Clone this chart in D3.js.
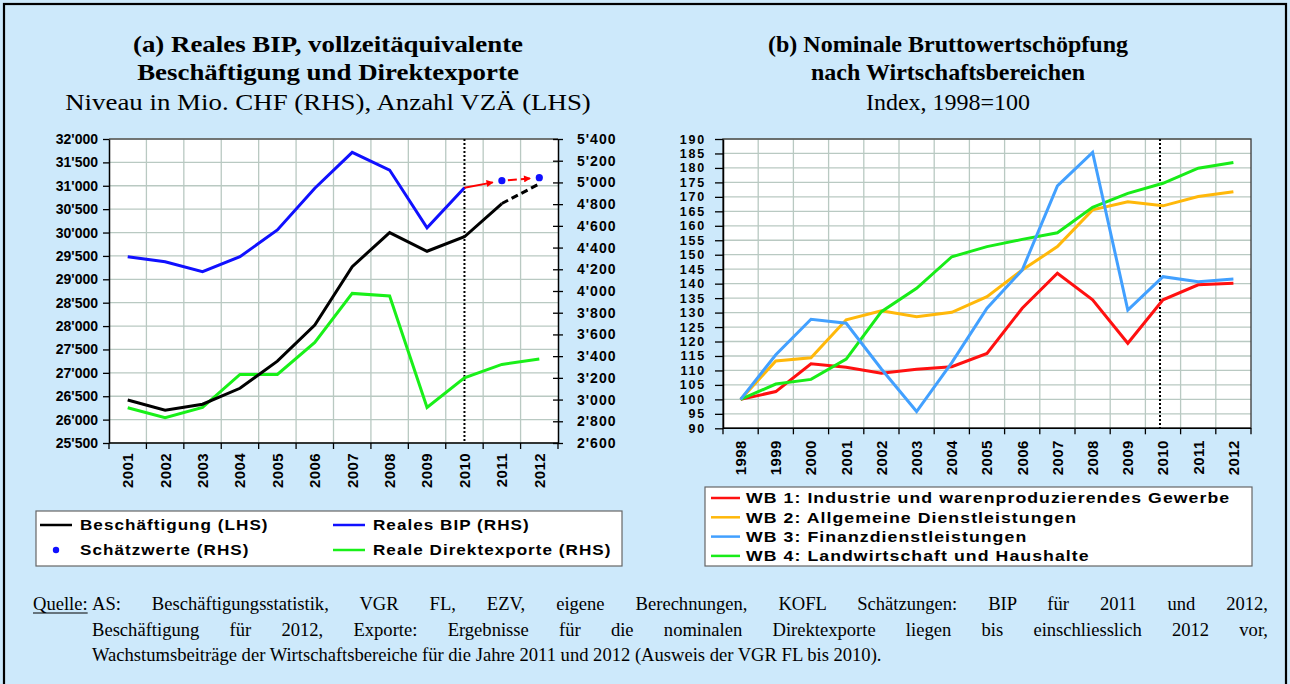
<!DOCTYPE html>
<html>
<head>
<meta charset="utf-8">
<script src="https://cdn.jsdelivr.net/npm/d3@7"></script>
<style>
  html, body { margin: 0; padding: 0; background: #cde9fb; }
  svg { display: block; }
  .tick text, .lbl { font-family: "Liberation Sans", Arial, sans-serif; font-weight: bold; }
</style>
</head>
<body>
<svg id="chart" width="1290" height="684"></svg>
<script>
// ---------- Data ----------
const yearsA = [2001, 2002, 2003, 2004, 2005, 2006, 2007, 2008, 2009, 2010, 2011, 2012];
const beschaeftigung = [26420, 26200, 26330, 26670, 27250, 28020, 29270, 30000, 29600, 29910, 30620, 31040];
const realesBIP = [4316, 4270, 4178, 4316, 4562, 4946, 5277, 5114, 4583, 4951, null, null];
const schaetzYears = [2011, 2012];
const schaetzwerte = [5016, 5044];
const direktexporte = [2925, 2832, 2927, 3232, 3232, 3527, 3978, 3954, 2927, 3201, 3324, 3373];
const lhsTicks = [25500, 26000, 26500, 27000, 27500, 28000, 28500, 29000, 29500, 30000, 30500, 31000, 31500, 32000];
const rhsTicks = [2600, 2800, 3000, 3200, 3400, 3600, 3800, 4000, 4200, 4400, 4600, 4800, 5000, 5200, 5400];

const yearsB = [1998, 1999, 2000, 2001, 2002, 2003, 2004, 2005, 2006, 2007, 2008, 2009, 2010, 2011, 2012];
const wb1 = [100, 102.7, 112.3, 111.1, 109, 110.4, 111.3, 115.9, 131.5, 143.6, 134.4, 119.4, 134.4, 139.6, 140.1];
const wb2 = [100, 113.3, 114.4, 127.5, 130.6, 128.6, 130.1, 135.5, 144.7, 152.8, 165.5, 168.3, 166.9, 170.1, 171.8];
const wb3 = [100, 115.4, 127.7, 126.3, 110.5, 95.8, 112.7, 131.5, 144.7, 173.8, 185.4, 130.9, 142.4, 140.7, 141.6];
const wb4 = [100, 105.3, 106.9, 113.9, 130.3, 138.4, 149.3, 152.8, 155.3, 157.6, 166.4, 171.2, 174.7, 179.9, 181.9];
const idxTicks = [90, 95, 100, 105, 110, 115, 120, 125, 130, 135, 140, 145, 150, 155, 160, 165, 170, 175, 180, 185, 190];

const legendA = ["Beschäftigung (LHS)", "Reales BIP (RHS)", "Schätzwerte (RHS)", "Reale Direktexporte (RHS)"];
const legendB = ["WB 1: Industrie und warenproduzierendes Gewerbe", "WB 2: Allgemeine Dienstleistungen",
                 "WB 3: Finanzdienstleistungen", "WB 4: Landwirtschaft und Haushalte"];
const footLines = [
  "AS: Beschäftigungsstatistik, VGR FL, EZV, eigene Berechnungen, KOFL Schätzungen: BIP für 2011 und 2012,",
  "Beschäftigung für 2012, Exporte: Ergebnisse für die nominalen Direktexporte liegen bis einschliesslich 2012 vor,",
  "Wachstumsbeiträge der Wirtschaftsbereiche für die Jahre 2011 und 2012 (Ausweis der VGR FL bis 2010)."
];

// ---------- Setup ----------
const svg = d3.select("#chart");
const fmt = d3.formatLocale({decimal: ".", thousands: "'", grouping: [3], currency: ["", ""]}).format(",");
const GRID = "#b9c9c2";
const serif = "'Liberation Serif', 'Times New Roman', serif";

svg.append("rect").attr("x", 0).attr("y", 0).attr("width", 1290).attr("height", 684).attr("fill", "#cde9fb");
svg.append("rect").attr("x", 4).attr("y", 4).attr("width", 1282).attr("height", 700)
  .attr("fill", "none").attr("stroke", "#000").attr("stroke-width", 2.2);

function title(cx, lines, sx) {
  lines.forEach((l, i) => {
    svg.append("text").attr("transform", `translate(${cx},${[52, 80, 110][i]}) scale(${sx},1)`)
      .attr("text-anchor", "middle")
      .attr("font-family", serif).attr("font-size", 24).attr("font-weight", i < 2 ? "bold" : "normal")
      .attr("fill", "#000").text(l);
  });
}
title(328, ["(a) Reales BIP, vollzeitäquivalente", "Beschäftigung und Direktexporte", "Niveau in Mio. CHF (RHS), Anzahl VZÄ (LHS)"], 1.12);
title(948, ["(b) Nominale Bruttowertschöpfung", "nach Wirtschaftsbereichen", "Index, 1998=100"], 1.0);

// ---------- Chart A ----------
const A = {l: 109, r: 558, t: 139, b: 443};
const xA = d3.scaleBand().domain(yearsA).range([A.l, A.r]);
const yL = d3.scaleLinear().domain([25500, 32000]).range([A.b, A.t]);
const yR = d3.scaleLinear().domain([2600, 5400]).range([A.b, A.t]);
const cA = d => xA(d) + xA.bandwidth() / 2;
const gA = svg.append("g");
gA.append("rect").attr("x", A.l).attr("y", A.t).attr("width", A.r - A.l).attr("height", A.b - A.t).attr("fill", "#fff");
gA.selectAll(".hg").data(lhsTicks).join("line")
  .attr("x1", A.l).attr("x2", A.r).attr("y1", d => yL(d)).attr("y2", d => yL(d))
  .attr("stroke", GRID).attr("stroke-width", 1.3);
gA.selectAll(".vg").data(yearsA.slice(1)).join("line")
  .attr("x1", d => xA(d)).attr("x2", d => xA(d)).attr("y1", A.t).attr("y2", A.b)
  .attr("stroke", GRID).attr("stroke-width", 1.3);
gA.append("line").attr("x1", A.l).attr("x2", A.r).attr("y1", A.t).attr("y2", A.t).attr("stroke", "#555").attr("stroke-width", 1.3);

const axL = gA.append("g").attr("transform", `translate(${A.l},0)`)
  .call(d3.axisLeft(yL).tickValues(lhsTicks).tickFormat(fmt).tickSizeInner(6).tickSizeOuter(0).tickPadding(5));
const axR = gA.append("g").attr("transform", `translate(${A.r},0)`)
  .call(d3.axisRight(yR).tickValues(rhsTicks).tickFormat(fmt).tickSizeInner(5).tickSizeOuter(0).tickPadding(14));
axR.selectAll(".tick line").attr("x1", -5);
const axB = gA.append("g").attr("transform", `translate(0,${A.b})`);
axB.append("line").attr("x1", A.l).attr("x2", A.r).attr("stroke", "#000").attr("stroke-width", 1.5);
axB.selectAll(".bt").data(yearsA.concat([null])).join("line")
  .attr("x1", (d, i) => A.l + i * xA.step()).attr("x2", (d, i) => A.l + i * xA.step())
  .attr("y1", 0).attr("y2", 6).attr("stroke", "#000").attr("stroke-width", 1.3);
axB.selectAll(".bl").data(yearsA).join("text").attr("class", "lbl")
  .attr("transform", d => `translate(${cA(d)},10) rotate(-90)`)
  .attr("text-anchor", "end").attr("dy", "0.36em").attr("font-size", 15).attr("letter-spacing", 0.4)
  .attr("fill", "#000").text(d => d);
[axL, axR].forEach(ax => {
  ax.select(".domain").attr("stroke", "#000").attr("stroke-width", 1.5);
  ax.selectAll(".tick line").attr("stroke", "#000").attr("stroke-width", 1.3);
  ax.selectAll(".tick text").attr("font-size", 14).attr("fill", "#000");
});
axR.selectAll(".tick text").attr("letter-spacing", 1);

gA.append("line").attr("x1", cA(2010)).attr("x2", cA(2010)).attr("y1", A.t).attr("y2", A.b)
  .attr("stroke", "#000").attr("stroke-width", 2).attr("stroke-dasharray", "2,2");

const lineL = d3.line().x((d, i) => cA(yearsA[i])).y(d => yL(d)).defined(d => d != null);
const lineR = d3.line().x((d, i) => cA(yearsA[i])).y(d => yR(d)).defined(d => d != null);

gA.append("path").attr("d", lineR(direktexporte)).attr("fill", "none").attr("stroke", "#19f019").attr("stroke-width", 3);
gA.append("path").attr("d", lineR(realesBIP)).attr("fill", "none").attr("stroke", "#1010ff").attr("stroke-width", 3);
gA.append("path").attr("d", lineL(beschaeftigung.map((v, i) => i <= 10 ? v : null)))
  .attr("fill", "none").attr("stroke", "#000").attr("stroke-width", 3);
gA.append("path").attr("d", lineL(beschaeftigung.map((v, i) => i >= 10 ? v : null)))
  .attr("fill", "none").attr("stroke", "#000").attr("stroke-width", 3).attr("stroke-dasharray", "7,4");

svg.append("defs").append("marker").attr("id", "arr").attr("viewBox", "0 0 10 10").attr("refX", 9).attr("refY", 5)
  .attr("markerWidth", 9).attr("markerHeight", 7).attr("markerUnits", "userSpaceOnUse").attr("orient", "auto")
  .append("path").attr("d", "M0,0L10,5L0,10Z").attr("fill", "#ff0000");
const arrowPts = [[2010, realesBIP[9]], [schaetzYears[0], schaetzwerte[0]], [schaetzYears[1], schaetzwerte[1]]];
for (let k = 0; k < 2; k++) {
  const [x0y, v0] = arrowPts[k], [x1y, v1] = arrowPts[k + 1];
  const x0 = cA(x0y) + (k === 0 ? 0 : 6), x1 = cA(x1y) - 9;
  const t0 = (x0 - cA(x0y)) / (cA(x1y) - cA(x0y)), t1 = (x1 - cA(x0y)) / (cA(x1y) - cA(x0y));
  const y0 = yR(v0) + (yR(v1) - yR(v0)) * t0, y1 = yR(v0) + (yR(v1) - yR(v0)) * t1;
  gA.append("line").attr("x1", x0).attr("y1", y0).attr("x2", x1).attr("y2", y1)
    .attr("stroke", "#ff0000").attr("stroke-width", 2).attr("marker-end", "url(#arr)")
    .attr("stroke-dasharray", k === 1 ? "9,4" : null);
}
gA.selectAll(".est").data(schaetzwerte).join("circle")
  .attr("cx", (d, i) => cA(schaetzYears[i])).attr("cy", d => yR(d)).attr("r", 3.6).attr("fill", "#1010ff");

function stretchText(g, x, y, txt, sx, size, ls) {
  return g.append("text").attr("class", "lbl").attr("transform", `translate(${x},${y}) scale(${sx},1)`)
    .attr("dy", "0.36em").attr("font-size", size).attr("letter-spacing", ls).attr("fill", "#000").text(txt);
}

// Legend A
const LA = svg.append("g");
LA.append("rect").attr("x", 36).attr("y", 511).attr("width", 586).attr("height", 55)
  .attr("fill", "#fff").attr("stroke", "#666").attr("stroke-width", 1.2);
const legA = [
  {t: legendA[0], x: 80, y: 525, type: "line", c: "#000"},
  {t: legendA[1], x: 373, y: 525, type: "line", c: "#1010ff"},
  {t: legendA[2], x: 80, y: 550, type: "dot", c: "#1010ff"},
  {t: legendA[3], x: 373, y: 550, type: "line", c: "#19f019"}
];
legA.forEach(d => {
  if (d.type === "line") LA.append("line").attr("x1", d.x - 40).attr("x2", d.x - 8).attr("y1", d.y).attr("y2", d.y)
    .attr("stroke", d.c).attr("stroke-width", 2.5);
  else LA.append("circle").attr("cx", d.x - 24).attr("cy", d.y).attr("r", 3.2).attr("fill", d.c);
  stretchText(LA, d.x, d.y, d.t, 1.14, 15, 0.9);
});

// ---------- Chart B ----------
const B = {l: 723, r: 1251, t: 139, b: 428.3};
const xB = d3.scaleBand().domain(yearsB).range([B.l, B.r]);
const yB = d3.scaleLinear().domain([90, 190]).range([B.b, B.t]);
const cB = d => xB(d) + xB.bandwidth() / 2;
const gB = svg.append("g");
gB.append("rect").attr("x", B.l).attr("y", B.t).attr("width", B.r - B.l).attr("height", B.b - B.t).attr("fill", "#fff");
gB.selectAll(".hg").data(idxTicks).join("line")
  .attr("x1", B.l).attr("x2", B.r).attr("y1", d => yB(d)).attr("y2", d => yB(d))
  .attr("stroke", GRID).attr("stroke-width", 1.3);
gB.selectAll(".vg").data(yearsB.slice(1)).join("line")
  .attr("x1", d => xB(d)).attr("x2", d => xB(d)).attr("y1", B.t).attr("y2", B.b)
  .attr("stroke", GRID).attr("stroke-width", 1.3);
gB.append("rect").attr("x", B.l).attr("y", B.t).attr("width", B.r - B.l).attr("height", B.b - B.t)
  .attr("fill", "none").attr("stroke", "#444").attr("stroke-width", 1.4);
const axBL = gB.append("g").attr("transform", `translate(${B.l},0)`)
  .call(d3.axisLeft(yB).tickValues(idxTicks).tickSizeInner(8).tickSizeOuter(0).tickPadding(9));
axBL.select(".domain").attr("stroke", "#000").attr("stroke-width", 1.5);
axBL.selectAll(".tick line").attr("stroke", "#000").attr("stroke-width", 1.3);
axBL.selectAll(".tick text").attr("font-size", 12.5).attr("letter-spacing", 1.8).attr("fill", "#000");
const axBB = gB.append("g").attr("transform", `translate(0,${B.b})`);
axBB.append("line").attr("x1", B.l).attr("x2", B.r).attr("stroke", "#000").attr("stroke-width", 1.5);
axBB.selectAll(".bt").data(yearsB.concat([null])).join("line")
  .attr("x1", (d, i) => B.l + i * xB.step()).attr("x2", (d, i) => B.l + i * xB.step())
  .attr("y1", 0).attr("y2", 6).attr("stroke", "#000").attr("stroke-width", 1.3);
axBB.selectAll(".bl").data(yearsB).join("text").attr("class", "lbl")
  .attr("transform", d => `translate(${cB(d)},12) rotate(-90)`)
  .attr("text-anchor", "end").attr("dy", "0.36em").attr("font-size", 15).attr("letter-spacing", 0.4)
  .attr("fill", "#000").text(d => d);
gB.append("line").attr("x1", cB(2010) - 3).attr("x2", cB(2010) - 3).attr("y1", B.t).attr("y2", B.b)
  .attr("stroke", "#000").attr("stroke-width", 2).attr("stroke-dasharray", "2,2");

const seriesB = [
  {v: wb1, c: "#ff1010"}, {v: wb2, c: "#ffb80a"}, {v: wb3, c: "#42a0ff"}, {v: wb4, c: "#18ec18"}
];
const lineB = d3.line().x((d, i) => cB(yearsB[i])).y(d => yB(d));
[seriesB[1], seriesB[0], seriesB[3], seriesB[2]].forEach(s => {
  gB.append("path").attr("d", lineB(s.v)).attr("fill", "none").attr("stroke", s.c).attr("stroke-width", 3);
});

// Legend B
const LB = svg.append("g");
LB.append("rect").attr("x", 705).attr("y", 487).attr("width", 547).attr("height", 79)
  .attr("fill", "#fff").attr("stroke", "#666").attr("stroke-width", 1.2);
legendB.forEach((t, i) => {
  const y = 498 + i * 19.3;
  LB.append("line").attr("x1", 711).attr("x2", 740).attr("y1", y).attr("y2", y)
    .attr("stroke", seriesB[i].c).attr("stroke-width", 2.5);
  stretchText(LB, 746, y, t, 1.18, 15, 0.9);
});

// ---------- Footer ----------
const F = svg.append("g").attr("font-family", serif).attr("font-size", 19).attr("fill", "#000");
const probe = F.append("text").text(footLines[2]);
const w3 = probe.node().getComputedTextLength();
probe.remove();
const sx = 790 / w3;
const footW = [1176, 1176, 790];
const q = F.append("g").attr("transform", `translate(33,610) scale(${sx},1)`);
q.append("text").attr("x", 0).attr("y", 0).text("Quelle:");
const qw = q.select("text").node().getComputedTextLength();
q.append("line").attr("x1", 0).attr("x2", qw).attr("y1", 3).attr("y2", 3).attr("stroke", "#000").attr("stroke-width", 1.2);
footLines.forEach((t, i) => {
  const g = F.append("g").attr("transform", `translate(92,${610 + i * 25.5}) scale(${sx},1)`);
  const tx = g.append("text").attr("x", 0).attr("y", 0).text(t);
  if (i < 2) {
    const w = tx.node().getComputedTextLength();
    const n = (t.match(/ /g) || []).length;
    tx.attr("word-spacing", (footW[i] / sx - w) / n);
  }
});
</script>
</body>
</html>
